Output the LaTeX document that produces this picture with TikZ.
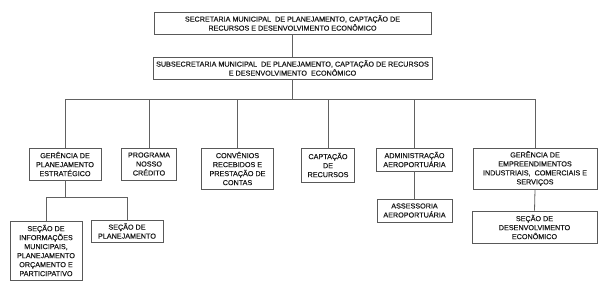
\documentclass[tikz,border=0pt]{standalone}
\usepackage{fontspec}
\setmainfont[FakeBold=0.4]{Liberation Sans}
\begin{document}
\begin{tikzpicture}[x=1pt,y=-1pt,
  orgbox/.style={draw=black!65, line width=0.9pt, fill=white, inner sep=0pt, align=center,
    font=\fontsize{7.2}{9}\selectfont, text=black!90},
  link/.style={draw=black!62, line width=0.8pt}]
\useasboundingbox (0,0) rectangle (604,284);
\fill[white] (0,0) rectangle (604,284);
\node[orgbox, minimum width=277pt, minimum height=22pt] (top) at (292.5,23)
  {SECRETARIA MUNICIPAL\ \ DE PLANEJAMENTO, CAPTAÇÃO DE\\RECURSOS E DESENVOLVIMENTO ECONÔMICO};
\node[orgbox, minimum width=279pt, minimum height=22pt] (sub) at (292.5,68)
  {SUBSECRETARIA MUNICIPAL\ \ DE PLANEJAMENTO,\ CAPTAÇÃO DE RECURSOS\\E DESENVOLVIMENTO\ \ ECONÔMICO};
\node[orgbox, minimum width=72pt, minimum height=32pt] (g1) at (65,164)
  {GERÊNCIA DE\\PLANEJAMENTO\\ESTRATÉGICO};
\node[orgbox, minimum width=55pt, minimum height=32pt] (prog) at (149,164)
  {PROGRAMA\\NOSSO\\CRÉDITO};
\node[orgbox, minimum width=72pt, minimum height=41pt] (conv) at (237.5,168.5)
  {CONVÊNIOS\\RECEBIDOS E\\PRESTAÇÃO DE\\CONTAS};
\node[orgbox, minimum width=53pt, minimum height=34pt] (capt) at (328,165)
  {CAPTAÇÃO\\DE\\RECURSOS};
\node[orgbox, minimum width=76pt, minimum height=23pt] (adm) at (414.5,159.5)
  {ADMINISTRAÇÃO\\AEROPORTUÁRIA};
\node[orgbox, minimum width=124pt, minimum height=41pt] (gemp) at (535,168.5)
  {GERÊNCIA DE\\EMPREENDIMENTOS\\INDUSTRIAIS,\ \ COMERCIAIS E\\SERVIÇOS};
\node[orgbox, minimum width=72pt, minimum height=59pt] (info) at (46,250.5)
  {SEÇÃO DE\\INFORMAÇÕES\\MUNICIPAIS,\\PLANEJAMENTO\\ORÇAMENTO E\\PARTICIPATIVO};
\node[orgbox, minimum width=72pt, minimum height=22pt] (splan) at (127,231)
  {SEÇÃO DE\\PLANEJAMENTO};
\node[orgbox, minimum width=75pt, minimum height=23pt] (assess) at (414.5,210.5)
  {ASSESSORIA\\AEROPORTUÁRIA};
\node[orgbox, minimum width=125pt, minimum height=32pt] (sdes) at (534.5,227)
  {SEÇÃO DE\\DESENVOLVIMENTO\\ECONÔMICO};
\coordinate (bus) at (0,99);
\coordinate (bus2) at (0,197);
\draw[link] (top.south) -- (sub.north);
\draw[link] (sub.south) -- (sub.south |- bus);
\draw[link] (g1.north) -- (g1.north |- bus) -- (gemp.north |- bus) -- (gemp.north);
\draw[link] (prog.north) -- (prog.north |- bus);
\draw[link] (conv.north) -- (conv.north |- bus);
\draw[link] (capt.north) -- (capt.north |- bus);
\draw[link] (adm.north) -- (adm.north |- bus);
\draw[link] (g1.south) -- (g1.south |- bus2);
\draw[link] (info.north) -- (info.north |- bus2) -- (splan.north |- bus2) -- (splan.north);
\draw[link] (adm.south) -- (assess.north);
\draw[link] (gemp.south) -- (sdes.north);
\end{tikzpicture}
\end{document}
